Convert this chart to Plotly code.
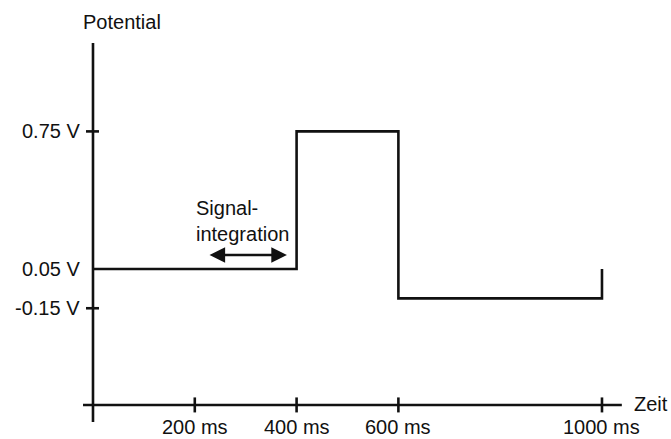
import plotly.graph_objects as go

# Data
time_ms = [0, 400, 400, 600, 600, 1000, 1000]
potential_v = [0.05, 0.05, 0.75, 0.75, -0.1, -0.1, 0.05]
x_tick_values = [200, 400, 600, 1000]
x_tick_labels = ["200 ms", "400 ms", "600 ms", "1000 ms"]
y_tick_values = [0.75, 0.05, -0.15]
y_tick_labels = ["0.75 V", "0.05 V", "-0.15 V"]
y_tick_marks = [0.75, -0.15]

INK = "#111111"
FONT = dict(family="Liberation Sans, Arial, sans-serif", size=20, color=INK)

X_RANGE = [-182.7, 1135.6]
Y_RANGE = [-0.8154, 1.4187]
X_AXIS_Y = -0.642
Y_AXIS_TOP = 1.20
Y_AXIS_BOTTOM = -0.729
X_AXIS_LEFT = -19.6
X_AXIS_RIGHT = 1039

fig = go.Figure()
fig.add_trace(go.Scatter(
    x=time_ms, y=potential_v, mode="lines",
    line=dict(color=INK, width=2.6, shape="linear"),
    hoverinfo="skip", showlegend=False,
))

shapes = []
# axes
shapes.append(dict(type="line", xref="x", yref="y", x0=0, x1=0,
                   y0=Y_AXIS_BOTTOM, y1=Y_AXIS_TOP, line=dict(color=INK, width=2.6)))
shapes.append(dict(type="line", xref="x", yref="y", x0=X_AXIS_LEFT, x1=X_AXIS_RIGHT,
                   y0=X_AXIS_Y, y1=X_AXIS_Y, line=dict(color=INK, width=2.6)))
# x ticks
for t in x_tick_values:
    shapes.append(dict(type="line", xref="x", yref="y", ysizemode="pixel", yanchor=X_AXIS_Y,
                       x0=t, x1=t, y0=-7.5, y1=7.5, line=dict(color=INK, width=2.6)))
# y ticks
for v in y_tick_marks:
    shapes.append(dict(type="line", xref="x", yref="y", xsizemode="pixel", xanchor=0,
                       x0=-7, x1=6, y0=v, y1=v, line=dict(color=INK, width=2.6)))

annotations = []
for t, lab in zip(x_tick_values, x_tick_labels):
    annotations.append(dict(x=t, y=X_AXIS_Y, xref="x", yref="y", text=lab, showarrow=False,
                            xanchor="center", yanchor="middle", yshift=-22, borderpad=0,
                            font=FONT))
for v, lab in zip(y_tick_values, y_tick_labels):
    annotations.append(dict(x=0, y=v, xref="x", yref="y", text=lab, showarrow=False,
                            xanchor="right", yanchor="middle", xshift=-11, font=FONT))
annotations.append(dict(x=0, y=Y_AXIS_TOP, xref="x", yref="y", text="Potential", showarrow=False,
                        xanchor="left", yanchor="middle", xshift=-12, yshift=21, font=FONT))
annotations.append(dict(x=X_AXIS_RIGHT, y=X_AXIS_Y, xref="x", yref="y", text="Zeit", showarrow=False,
                        xanchor="left", yanchor="middle", xshift=10, yshift=1, font=FONT))
annotations.append(dict(x=198, y=0.294, xref="x", yref="y", text="Signal-<br>integration",
                        showarrow=False, xanchor="left", yanchor="middle", align="left", font=FONT))
annotations.append(dict(x=381, y=0.121, ax=226, ay=0.121, xref="x", yref="y", axref="x", ayref="y",
                        text="", showarrow=True, arrowhead=2, startarrowhead=2, arrowside="end+start",
                        arrowsize=1.3, startarrowsize=1.3, arrowwidth=2.4, arrowcolor=INK))

fig.update_layout(
    width=671, height=439,
    margin=dict(l=0, r=0, t=0, b=0),
    paper_bgcolor="white", plot_bgcolor="white",
    xaxis=dict(range=X_RANGE, visible=False, fixedrange=True),
    yaxis=dict(range=Y_RANGE, visible=False, fixedrange=True),
    shapes=shapes, annotations=annotations, showlegend=False,
)
fig.write_html("out.html")
